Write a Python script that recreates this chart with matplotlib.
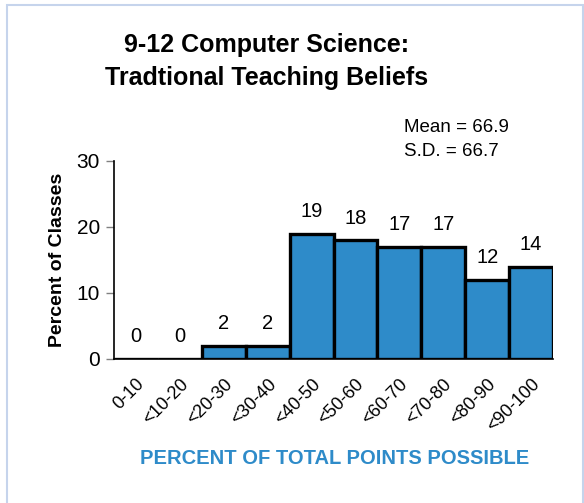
import matplotlib.pyplot as plt
from matplotlib.patches import Rectangle

# data
categories = ['0-10', '<10-20', '<20-30', '<30-40', '<40-50',
              '<50-60', '<60-70', '<70-80', '<80-90', '<90-100']
percents = [0, 0, 2, 2, 19, 18, 17, 17, 12, 14]
y_ticks = [0, 10, 20, 30]
title_lines = ['9-12 Computer Science:', 'Tradtional Teaching Beliefs']
stats_lines = ['Mean = 66.9', 'S.D. = 66.7']

font = ['Liberation Sans', 'DejaVu Sans']
bar_color = '#2e8bc9'

fig = plt.figure(figsize=(5.84, 5.03), dpi=100)

# light blue frame round the figure
fig.patches.append(Rectangle((7 / 584, -0.01), 576 / 584, 1 - 5 / 503 + 0.01,
                             transform=fig.transFigure, fill=False,
                             edgecolor='#c6d4ec', linewidth=1.5))

ax = fig.add_axes([114 / 584, (503 - 359) / 503, (553 - 114) / 584, (359 - 161) / 503])

x = range(len(categories))
ax.bar(x, percents, width=1.0, color=bar_color, edgecolor='black', linewidth=2.4)

for i, v in enumerate(percents):
    ax.text(i, v + 1.9, str(v), ha='center', va='bottom',
            fontsize=14.5, family=font)

ax.set_xlim(-0.5, len(categories) - 0.5)
ax.set_ylim(0, 30)
ax.set_yticks(y_ticks)
ax.set_yticklabels([str(t) for t in y_ticks], fontsize=15, family=font)
ax.set_xticks(list(x))
ax.set_xticklabels(categories, rotation=45, ha='right', rotation_mode='anchor',
                   fontsize=13, family=font)
ax.tick_params(axis='y', length=6, color='#808080', width=1, pad=4)
ax.tick_params(axis='x', length=0, pad=12)

ax.spines['top'].set_visible(False)
ax.spines['right'].set_visible(False)
ax.spines['left'].set_linewidth(1.2)
ax.spines['bottom'].set_linewidth(1.2)

ax.set_ylabel('Percent of Classes', fontsize=14, fontweight='bold',
              family=font, labelpad=8)

fig.text(335 / 584, 1 - 458 / 503, 'PERCENT OF TOTAL POINTS POSSIBLE',
         ha='center', va='center', fontsize=14.5, fontweight='bold',
         color=bar_color, family=font)

fig.text(267 / 584, 1 - 45 / 503, title_lines[0], ha='center', va='center',
         fontsize=18, fontweight='bold', family=font)
fig.text(267 / 584, 1 - 78 / 503, title_lines[1], ha='center', va='center',
         fontsize=18, fontweight='bold', family=font)

fig.text(404 / 584, 1 - 128 / 503, stats_lines[0], ha='left', va='center',
         fontsize=13.5, family=font)
fig.text(404 / 584, 1 - 152 / 503, stats_lines[1], ha='left', va='center',
         fontsize=13.5, family=font)

fig.savefig('out.png', dpi=100)
